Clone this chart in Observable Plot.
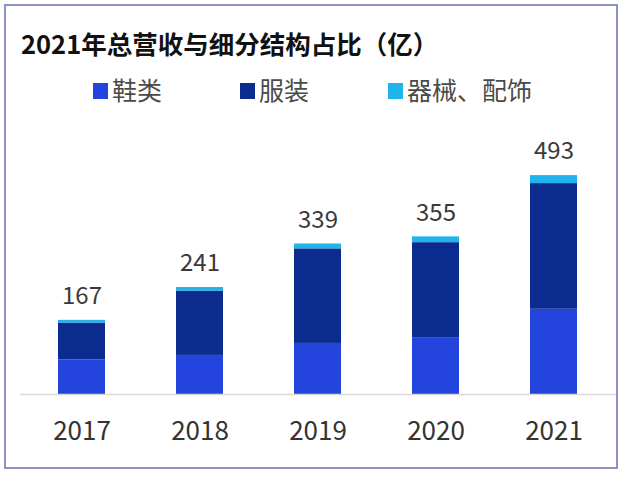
<!DOCTYPE html>
<html>
<head>
<meta charset="utf-8">
<script src="https://cdn.jsdelivr.net/npm/d3@7"></script>
<script src="https://cdn.jsdelivr.net/npm/@observablehq/plot@0.6"></script>
<style>
  html, body { margin: 0; padding: 0; background: #fff; width: 626px; height: 478px; overflow: hidden; }
  body { position: relative; font-family: "Noto Sans CJK SC", "Noto Sans", sans-serif; }
  #frame { position: absolute; left: 4px; top: 4px; width: 614px; height: 465px; box-sizing: border-box; border: 2px solid #8d92c2; pointer-events: none; z-index: 5; }
  #title { position: absolute; left: 21px; top: 30px; font-size: 25.5px; line-height: 25.5px; font-weight: bold; color: #111; white-space: nowrap; }
  .sw { position: absolute; top: 83px; width: 15px; height: 16px; }
  .lt { position: absolute; top: 77px; font-size: 25px; line-height: 25px; color: #4a4a4a; white-space: nowrap; }
  #chart { position: absolute; left: 0; top: 110px; }
</style>
</head>
<body>
<div id="title">2021年总营收与细分结构占比（亿）</div>
<div id="legend"></div>
<div id="chart"></div>
<div id="frame"></div>
<script>
const years = ["2017", "2018", "2019", "2020", "2021"];
const footwear = [78, 88, 115, 128, 192];      // 鞋类
const apparel = [83, 145, 213, 214, 283];      // 服装
const accessories = [6, 8, 11, 13, 18];        // 器械、配饰
const totals = [167, 241, 339, 355, 493];
const seriesNames = ["鞋类", "服装", "器械、配饰"];
const seriesColors = ["#2345de", "#0b2c8e", "#20b4ec"];

// legend
const legend = document.getElementById("legend");
const swLeft = [93, 240, 388];
seriesNames.forEach((name, i) => {
  const s = document.createElement("div");
  s.className = "sw";
  s.style.left = swLeft[i] + "px";
  s.style.background = seriesColors[i];
  legend.appendChild(s);
  const t = document.createElement("div");
  t.className = "lt";
  t.style.left = (swLeft[i] + 19) + "px";
  t.textContent = name;
  legend.appendChild(t);
});

const rows = [];
years.forEach((y, i) => {
  rows.push({year: y, series: seriesNames[0], value: footwear[i]});
  rows.push({year: y, series: seriesNames[1], value: apparel[i]});
  rows.push({year: y, series: seriesNames[2], value: accessories[i]});
});
const totalRows = years.map((y, i) => ({year: y, total: totals[i]}));

const plot = Plot.plot({
  width: 626,
  height: 350,
  marginLeft: 20,
  marginRight: 10,
  marginTop: 62,
  marginBottom: 66,
  style: {fontFamily: "'Noto Sans CJK SC', 'Noto Sans', sans-serif", fontSize: "24px", color: "#333", background: "transparent"},
  x: {domain: years, paddingInner: 0.6, paddingOuter: 0.322, label: null},
  y: {domain: [0, 500], axis: null},
  color: {domain: seriesNames, range: seriesColors},
  marks: [
    Plot.barY(rows, {x: "year", y: "value", fill: "series", order: seriesNames}),
    Plot.ruleY([0], {stroke: "#d9d9d9", strokeWidth: 1.5}),
    Plot.text(totalRows, {x: "year", y: "total", text: d => String(d.total), dy: -24, fontSize: 24, fill: "#3a3a3a"}),
    Plot.axisX({tickSize: 0, tickPadding: 27, fontSize: 26, color: "#333", label: null})
  ]
});
document.getElementById("chart").appendChild(plot);
</script>
</body>
</html>
